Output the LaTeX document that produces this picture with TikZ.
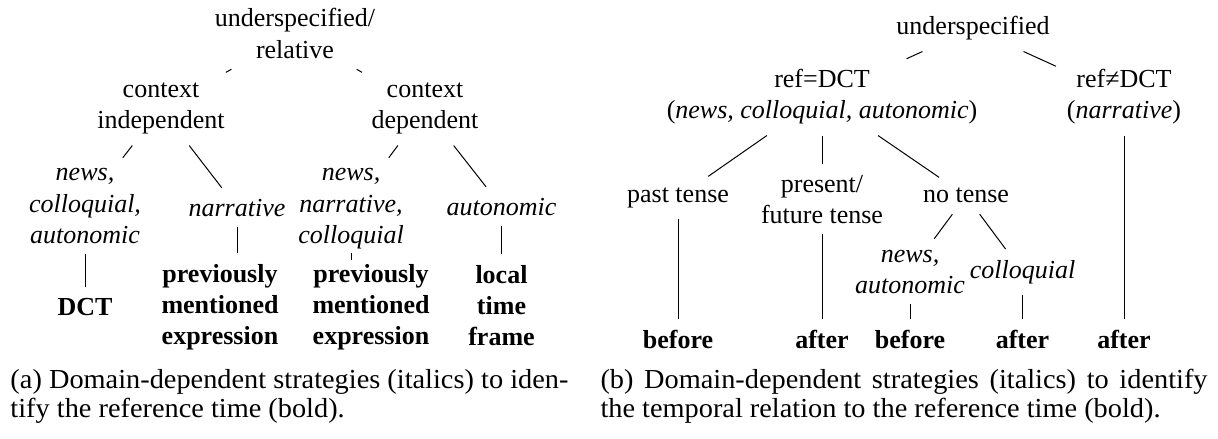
\documentclass[tikz,border=0pt]{standalone}
\usepackage{fontspec}
\setmainfont{Liberation Serif}
\newcommand\mlc[1]{\vtop{\halign{\hfil##\hfil\cr#1\crcr}}}
\newcommand\mll[1]{\vtop{\halign{##\hfil\cr#1\crcr}}}
\begin{document}
\begin{tikzpicture}[x=0.4pt,y=-0.4pt,
  tn/.style={inner sep=4.2pt, anchor=base, font=\fontsize{10.4}{12.4}\selectfont},
  it/.style={tn, font=\fontsize{10.4}{12.4}\selectfont\itshape},
  bd/.style={tn, font=\fontsize{10.4}{12.4}\selectfont\bfseries},
  captxt/.style={inner sep=0pt, anchor=base west, font=\fontsize{11}{11.6}\selectfont\addfontfeatures{FakeStretch=1.03}},
  conn/.style={line width=0.4pt}]
\useasboundingbox (0,0) rectangle (1218,439);
% ---- left tree ----
\node[tn] (r1) at (295,27) {\mlc{underspecified/\cr relative}};
\node[tn] (ci) at (161,98) {\mlc{context\cr independent}};
\node[tn] (cd) at (425,98) {\mlc{context\cr dependent}};
\node[it] (nca) at (85,181) {\mlc{news,\cr colloquial,\cr autonomic}};
\node[it] (nar) at (237,216) {narrative};
\node[it] (nnc) at (351,181) {\mlc{news,\cr narrative,\cr colloquial}};
\node[it] (aut) at (501.5,215) {autonomic};
\node[bd] (dct) at (85,315) {DCT};
\node[bd] (pme1) at (220,282) {\mlc{previously\cr mentioned\cr expression}};
\node[bd] (pme2) at (371,282) {\mlc{previously\cr mentioned\cr expression}};
\node[bd] (ltf) at (501.5,283) {\mlc{local\cr time\cr frame}};
\draw[conn] (r1) -- (ci);
\draw[conn] (r1) -- (cd);
\draw[conn] (ci) -- (nca);
\draw[conn] (ci) -- (nar);
\draw[conn] (cd) -- (nnc);
\draw[conn] (cd) -- (aut);
\draw[conn] (nca) -- (dct);
\draw[conn] (aut) -- (ltf);
\draw[conn] (nar.south) -- (nar.south |- pme1.north);
\draw[conn] (nnc.south) -- (nnc.south |- pme2.north);
% ---- right tree ----
\node[tn] (u) at (973,35) {underspecified};
\node[tn] (rd) at (822,88) {\mlc{ref=DCT\cr (\textit{news, colloquial, autonomic})}};
\node[tn] (rnd) at (1124,88) {\mlc{ref≠DCT\cr (\textit{narrative})}};
\node[tn] (pt) at (678,202) {past tense};
\node[tn] (pft) at (822,192) {\mlc{present/\cr future tense}};
\node[tn] (nt) at (966,203) {no tense};
\node[it] (na) at (910,262) {\mlc{news,\cr autonomic}};
\node[it] (col) at (1022.5,278) {colloquial};
\node[bd] (b1) at (678,348) {before};
\node[bd] (a1) at (822,348) {after};
\node[bd] (b2) at (910,348) {before};
\node[bd] (a2) at (1022.5,348) {after};
\node[bd] (a3) at (1124,348) {after};
\draw[conn] (u) -- (rd);
\draw[conn] (u) -- (rnd);
\draw[conn] (rd) -- (pt);
\draw[conn] (rd) -- (pft);
\draw[conn] (rd) -- (nt);
\draw[conn] (nt) -- (na);
\draw[conn] (nt) -- (col);
\draw[conn] (pt) -- (b1);
\draw[conn] (pft) -- (a1);
\draw[conn] (na) -- (b2);
\draw[conn] (col) -- (a2);
\draw[conn] (rnd) -- (a3);
% ---- captions ----
\node[captxt] (capa) at (10,388) {\mll{\hbox to 223.2pt{(a) Domain-dependent strategies (italics) to iden-}\cr tify the reference time (bold).}};
\node[captxt] (capb) at (600,388) {\mll{\hbox to 242.8pt{(b) Domain-dependent strategies (italics) to identify}\cr the temporal relation to the reference time (bold).}};
\end{tikzpicture}
\end{document}
